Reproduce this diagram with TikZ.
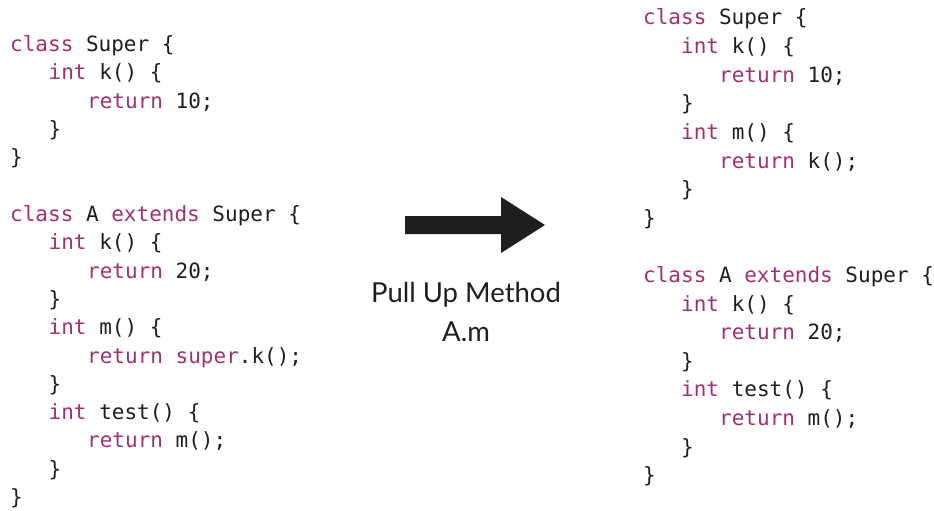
\documentclass[tikz,border=0pt]{standalone}
\usepackage{fontspec}
\setmonofont{DejaVu Sans Mono}
\newfontfamily\labelfont{Lato}
\definecolor{kw}{RGB}{162,48,116}
\definecolor{ink}{RGB}{30,30,30}
\newcommand{\kw}[1]{\textcolor{kw}{#1}}
\tikzset{
  code/.style={anchor=base west, inner sep=0pt, text=ink,
    font=\ttfamily\fontsize{21}{28}\selectfont},
  caption/.style={anchor=base, inner sep=0pt, text=ink,
    font=\labelfont\fontsize{27.5}{30}\selectfont},
}
\begin{document}
\begin{tikzpicture}[x=1pt,y=-1pt]
\useasboundingbox (0,0) rectangle (934,511);
% original code (left), baselines 51.7 + 28.3 i
\node[code] (l1)  at (10,51.7)    {\kw{class} Super \{};
\node[code] (l2)  at (48.5,80.0)  {\kw{int} k() \{};
\node[code] (l3)  at (87,108.3)   {\kw{return} 10;};
\node[code] (l4)  at (48.5,136.6) {\}};
\node[code] (l5)  at (10,164.9)   {\}};
\node[code] (l7)  at (10,221.5)   {\kw{class} A \kw{extends} Super \{};
\node[code] (l8)  at (48.5,249.8) {\kw{int} k() \{};
\node[code] (l9)  at (87,278.1)   {\kw{return} 20;};
\node[code] (l10) at (48.5,306.4) {\}};
\node[code] (l11) at (48.5,334.7) {\kw{int} m() \{};
\node[code] (l12) at (87,363.0)   {\kw{return} \kw{super}.k();};
\node[code] (l13) at (48.5,391.3) {\}};
\node[code] (l14) at (48.5,419.6) {\kw{int} test() \{};
\node[code] (l15) at (87,447.9)   {\kw{return} m();};
\node[code] (l16) at (48.5,476.2) {\}};
\node[code] (l17) at (10,504.5)   {\}};
% refactored code (right), baselines 25 + 28.6 i
\node[code] (r1)  at (643,25.0)  {\kw{class} Super \{};
\node[code] (r2)  at (681,53.6)  {\kw{int} k() \{};
\node[code] (r3)  at (719,82.2)  {\kw{return} 10;};
\node[code] (r4)  at (681,110.8) {\}};
\node[code] (r5)  at (681,139.4) {\kw{int} m() \{};
\node[code] (r6)  at (719,168.0) {\kw{return} k();};
\node[code] (r7)  at (681,196.6) {\}};
\node[code] (r8)  at (643,225.2) {\}};
\node[code] (r10) at (643,282.4) {\kw{class} A \kw{extends} Super \{};
\node[code] (r11) at (681,311.0) {\kw{int} k() \{};
\node[code] (r12) at (719,339.6) {\kw{return} 20;};
\node[code] (r13) at (681,368.2) {\}};
\node[code] (r14) at (681,396.8) {\kw{int} test() \{};
\node[code] (r15) at (719,425.4) {\kw{return} m();};
\node[code] (r16) at (681,454.0) {\}};
\node[code] (r17) at (643,482.6) {\}};
% refactoring arrow and its label
\fill[ink] (405,216) -- (501,216) -- (501,197) -- (545,225) -- (501,253)
  -- (501,234) -- (405,234) -- cycle;
\node[caption] (t1) at (466,302) {Pull Up Method};
\node[caption] (t2) at (466,341) {A.m};
\end{tikzpicture}
\end{document}
